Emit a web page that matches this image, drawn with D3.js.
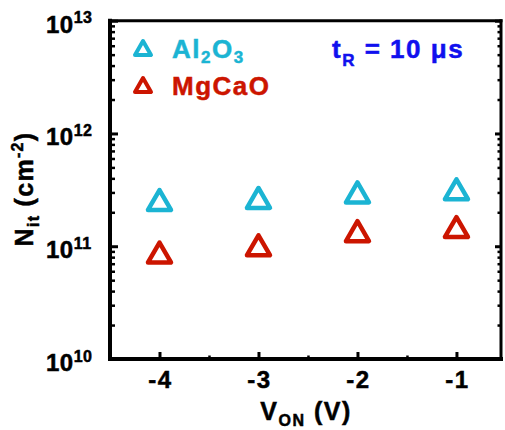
<!DOCTYPE html>
<html>
<head>
<meta charset="utf-8">
<script src="https://cdn.jsdelivr.net/npm/d3@7"></script>
<style>
  html, body { margin: 0; padding: 0; background: #fff; }
  svg { display: block; font-family: "Liberation Sans", Arial, sans-serif; font-weight: bold; }
  svg text { stroke: currentColor; stroke-width: 0.5px; }
</style>
</head>
<body>
<svg id="chart" width="505" height="430"></svg>
<script>
// Interface trap density vs. turn-on voltage, t_R = 10 µs
const voltages = [-4, -3, -2, -1];
const al2o3 = [2.57e11, 2.68e11, 3.0e11, 3.2e11];
const mgcao = [8.8e10, 1.02e11, 1.36e11, 1.48e11];
const xMajorTicks = [-4, -3, -2, -1];
const xMinorTicks = [-3.5, -2.5, -1.5];
const yMajorTicks = [1e10, 1e11, 1e12, 1e13];
const yTickExponents = ["10", "11", "12", "13"];
const seriesNames = ["Al2O3", "MgCaO"];

const colors = { al2o3: "#1bb4d3", mgcao: "#cc1500", note: "#1010ee" };

const svg = d3.select("#chart");
const plotLeft = 110, plotRight = 501, plotTop = 20.7, plotBottom = 359;

const x = d3.scaleLinear().domain([-4.5, -0.55]).range([plotLeft, plotRight]);
const y = d3.scaleLog().domain([1e10, 1e13]).range([plotBottom, plotTop]);

// minor log ticks: 2..9 in each decade
const yMinorTicks = [];
for (let k = 10; k < 13; k++) for (let m = 2; m <= 9; m++) yMinorTicks.push(m * Math.pow(10, k));

function styleAxis(g, w) {
  g.select(".domain").remove();
  g.selectAll(".tick line").attr("stroke", "#000").attr("stroke-width", w);
  g.selectAll(".tick text").remove();
}

// ticks, all pointing into the plot
svg.append("g").attr("transform", `translate(0,${plotBottom})`)
  .call(d3.axisBottom(x).tickValues(xMajorTicks).tickSize(-7)).call(g => styleAxis(g, 3));
svg.append("g").attr("transform", `translate(0,${plotBottom})`)
  .call(d3.axisBottom(x).tickValues(xMinorTicks).tickSize(-3.5)).call(g => styleAxis(g, 2.5));
svg.append("g").attr("transform", `translate(${plotLeft},0)`)
  .call(d3.axisLeft(y).tickValues(yMajorTicks).tickSize(-8)).call(g => styleAxis(g, 3));
svg.append("g").attr("transform", `translate(${plotLeft},0)`)
  .call(d3.axisLeft(y).tickValues(yMinorTicks).tickSize(-5)).call(g => styleAxis(g, 2.5));
svg.append("g").attr("transform", `translate(${plotRight},0)`)
  .call(d3.axisRight(y).tickValues(yMajorTicks).tickSize(-6)).call(g => styleAxis(g, 3));
svg.append("g").attr("transform", `translate(${plotRight},0)`)
  .call(d3.axisRight(y).tickValues(yMinorTicks).tickSize(-3.5)).call(g => styleAxis(g, 2.5));

// frame
const frame = svg.append("g").attr("stroke", "#000").attr("stroke-linecap", "square");
frame.append("line").attr("x1", plotLeft).attr("x2", plotRight).attr("y1", plotTop).attr("y2", plotTop).attr("stroke-width", 3);
frame.append("line").attr("x1", plotRight).attr("x2", plotRight).attr("y1", plotTop).attr("y2", plotBottom).attr("stroke-width", 3);
frame.append("line").attr("x1", plotLeft).attr("x2", plotLeft).attr("y1", plotTop).attr("y2", plotBottom).attr("stroke-width", 4);
frame.append("line").attr("x1", plotLeft).attr("x2", plotRight).attr("y1", plotBottom).attr("y2", plotBottom).attr("stroke-width", 4);

// y tick labels: 10^n
yMajorTicks.forEach((v, i) => {
  const t = svg.append("text").attr("x", 46).attr("y", y(v) + 12)
    .attr("font-size", 24).attr("letter-spacing", 0.5).style("color", "#000").attr("fill", "#000");
  t.append("tspan").text("10");
  t.append("tspan").attr("font-size", 16).attr("dy", -9.5).text(yTickExponents[i]);
});

// x tick labels
svg.append("g").selectAll("text").data(xMajorTicks).join("text")
  .attr("x", d => x(d) + 1).attr("y", plotBottom + 29)
  .attr("text-anchor", "middle").attr("font-size", 24).attr("letter-spacing", 1.5)
  .style("color", "#000").attr("fill", "#000")
  .text(d => d3.format("d")(d).replace("\u2212", "-"));

// axis titles
const xt = svg.append("text").attr("x", 306).attr("y", 420)
  .attr("text-anchor", "middle").attr("font-size", 25).attr("letter-spacing", 1.5)
  .style("color", "#000").attr("fill", "#000");
xt.append("tspan").text("V");
xt.append("tspan").attr("font-size", 16).attr("dy", 6).text("ON");
xt.append("tspan").attr("dy", -6).text(" (V)");

const yt = svg.append("text").attr("transform", "translate(33,189) rotate(-90)")
  .attr("text-anchor", "middle").attr("font-size", 25).attr("letter-spacing", 1.3)
  .style("color", "#000").attr("fill", "#000");
yt.append("tspan").text("N");
yt.append("tspan").attr("font-size", 16).attr("dy", 6).text("it");
yt.append("tspan").attr("dy", -6).text(" (cm");
yt.append("tspan").attr("font-size", 16).attr("dy", -10).text("-2");
yt.append("tspan").attr("dy", 10).text(")");

// open up-triangle centred on its bounding box
function triangle(side) {
  const h = side * Math.sqrt(3) / 2;
  return `M0,${-h / 2}L${side / 2},${h / 2}L${-side / 2},${h / 2}Z`;
}

const series = [
  { name: seriesNames[0], values: al2o3, color: colors.al2o3 },
  { name: seriesNames[1], values: mgcao, color: colors.mgcao }
];

series.forEach(s => {
  svg.append("g").selectAll("path").data(voltages).join("path")
    .attr("transform", (v, i) => `translate(${x(v)},${y(s.values[i])})`)
    .attr("d", triangle(23))
    .attr("fill", "none").attr("stroke", s.color)
    .attr("stroke-width", 4.5).attr("stroke-linejoin", "round");
});

// legend
const legendRows = [
  { color: colors.al2o3, parts: [["Al", 0], ["2", 1], ["O", 0], ["3", 1]] },
  { color: colors.mgcao, parts: [["MgCaO", 0]] }
];
legendRows.forEach((r, i) => {
  const cy = 48 + i * 37;
  svg.append("path").attr("transform", `translate(143,${cy})`)
    .attr("d", triangle(16)).attr("fill", "none").attr("stroke", r.color)
    .attr("stroke-width", 4).attr("stroke-linejoin", "round");
  const t = svg.append("text").attr("x", 172).attr("y", cy + 10)
    .attr("font-size", 26).attr("letter-spacing", 1.5)
    .style("color", r.color).attr("fill", r.color);
  let sub = 0;
  r.parts.forEach(([txt, isSub]) => {
    const dy = (isSub ? 5 : 0) - (sub ? 5 : 0);
    t.append("tspan").attr("font-size", isSub ? 17 : 26).attr("dy", dy).text(txt);
    sub = isSub;
  });
});

// measurement condition
const note = svg.append("text").attr("x", 332).attr("y", 58)
  .attr("font-size", 26).attr("letter-spacing", 1.5)
  .style("color", colors.note).attr("fill", colors.note);
note.append("tspan").text("t");
note.append("tspan").attr("font-size", 17).attr("dy", 8).text("R");
note.append("tspan").attr("dy", -8).text(" = 10 \u03bcs");
</script>
</body>
</html>
